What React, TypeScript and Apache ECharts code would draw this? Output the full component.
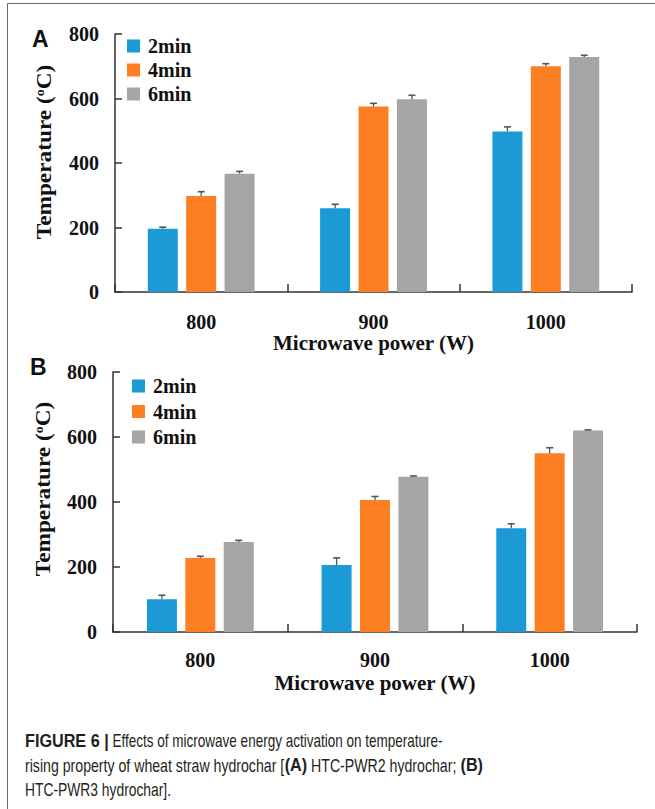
import React, { useEffect, useRef } from "react";
import * as echarts from "echarts";

const categories = ["800", "900", "1000"];
const seriesNames = ["2min", "4min", "6min"];
const seriesColors = ["#1b9ad6", "#fe7e22", "#a5a5a5"];

// Panel A (HTC-PWR2 hydrochar)
const a2min = [196, 260, 498];
const a4min = [298, 575, 700];
const a6min = [367, 598, 729];
const a2minErr = [5, 12, 14];
const a4minErr = [13, 10, 8];
const a6minErr = [7, 12, 5];

// Panel B (HTC-PWR3 hydrochar)
const b2min = [101, 206, 319];
const b4min = [228, 406, 550];
const b6min = [277, 478, 620];
const b2minErr = [12, 22, 14];
const b4minErr = [5, 11, 17];
const b6minErr = [5, 2, 2];

const yMin = 0;
const yMax = 800;
const yInterval = 200;

const xTitle = "Microwave power (W)";
const yTitle = "Temperature ({sup|o}C)";

const captionLines = [
  [
    { t: "FIGURE 6 |", b: true },
    { t: " Effects of microwave energy activation on temperature-", b: false },
  ],
  [
    { t: "rising property of wheat straw hydrochar [", b: false },
    { t: "(A)", b: true },
    { t: " HTC-PWR2 hydrochar; ", b: false },
    { t: "(B)", b: true },
  ],
  [{ t: "HTC-PWR3 hydrochar].", b: false }],
];

const SERIF = "'Liberation Serif', 'Times New Roman', serif";
const SANS = "'Liberation Sans', Arial, sans-serif";
const BAR_W = 30;
const BAR_GAP = 0.28;
const BAR_STEP = BAR_W * (1 + BAR_GAP);

function makeMeasurer() {
  const c = document.createElement("canvas");
  const ctx = c.getContext("2d");
  return (t: string, bold: boolean, size: number) => {
    if (!ctx) return t.length * size * 0.5;
    ctx.font = `${bold ? "bold " : ""}${size}px "Liberation Sans"`;
    return ctx.measureText(t).width;
  };
}

function errRender(k: number) {
  return (params: any, api: any) => {
    const idx = api.value(0);
    const v = api.value(1);
    const e = api.value(2);
    const p0 = api.coord([idx, v]);
    const p1 = api.coord([idx, v + e]);
    const cx = p0[0] + (k - 1) * BAR_STEP;
    return {
      type: "group",
      children: [
        {
          type: "line",
          shape: { x1: cx, y1: p0[1], x2: cx, y2: p1[1] },
          style: { stroke: "#555", lineWidth: 1.3 },
        },
        {
          type: "line",
          shape: { x1: cx - 3.5, y1: p1[1], x2: cx + 3.5, y2: p1[1] },
          style: { stroke: "#555", lineWidth: 1.6 },
        },
      ],
    };
  };
}

function panelSeries(gi: number, vals: number[][], errs: number[][]) {
  const out: any[] = [];
  vals.forEach((v, k) => {
    out.push({
      type: "bar",
      name: seriesNames[k],
      xAxisIndex: gi,
      yAxisIndex: gi,
      data: v,
      barWidth: BAR_W,
      barGap: `${BAR_GAP * 100}%`,
      itemStyle: { color: seriesColors[k] },
    });
  });
  vals.forEach((v, k) => {
    out.push({
      type: "custom",
      name: `${seriesNames[k]} error`,
      xAxisIndex: gi,
      yAxisIndex: gi,
      silent: true,
      z: 5,
      data: v.map((val, i) => [i, val, errs[k][i]]),
      encode: { x: 0, y: 1 },
      renderItem: errRender(k),
    });
  });
  return out;
}

const axisColor = "#333";
const labelStyle = { fontFamily: SERIF, fontWeight: "bold" as const, fontSize: 20, color: "#111" };

function xAxisFor(gi: number, margin: number, gap: number) {
  return {
    type: "category",
    gridIndex: gi,
    data: categories,
    axisLine: { lineStyle: { color: axisColor, width: 1.5 } },
    axisTick: { show: true, inside: true, length: 8, lineStyle: { color: axisColor, width: 1.5 } },
    axisLabel: { ...labelStyle, margin },
    name: xTitle,
    nameLocation: "middle",
    nameGap: gap,
    nameTextStyle: { ...labelStyle, fontSize: 21 },
  };
}

function yAxisFor(gi: number) {
  return {
    type: "value",
    gridIndex: gi,
    min: yMin,
    max: yMax,
    interval: yInterval,
    splitLine: { show: false },
    axisLine: { show: true, lineStyle: { color: axisColor, width: 1.5 } },
    axisTick: { show: true, inside: true, length: 7, lineStyle: { color: axisColor, width: 1.5 } },
    axisLabel: { ...labelStyle, margin: 16 },
  };
}

function yTitleGraphic(x: number, y: number) {
  return {
    type: "text",
    x,
    y,
    rotation: Math.PI / 2,
    scaleX: 1.06,
    style: {
      text: yTitle,
      fontFamily: SERIF,
      fontWeight: "bold",
      fontSize: 22,
      fill: "#111",
      align: "center",
      verticalAlign: "middle",
      rich: {
        sup: {
          fontFamily: SERIF,
          fontWeight: "bold",
          fontSize: 13,
          fill: "#111",
          verticalAlign: "top",
          lineHeight: 13,
        },
      },
    },
  };
}

function legendFor(left: number, top: number, gap: number) {
  return {
    data: seriesNames,
    orient: "vertical",
    left,
    top,
    padding: 0,
    icon: "rect",
    itemWidth: 13,
    itemHeight: 13,
    itemGap: gap,
    selectedMode: false,
    textStyle: { ...labelStyle, padding: [0, 0, 0, 3] },
  };
}

export default function App() {
  const ref = useRef<HTMLDivElement>(null);
  useEffect(() => {
    if (!ref.current) return;
    const chart = echarts.init(ref.current, undefined, { renderer: "svg" });

    const capSize = 18;
    const boldScale = 0.9;
    const measure = makeMeasurer();
    const capLeft = 25;
    const targets = [418, 458];
    const capYs = [741, 765, 789];
    const regScales: number[] = [];
    captionLines.slice(0, 2).forEach((segs, i) => {
      let wb = 0;
      let wr = 0;
      segs.forEach((s) => {
        const w = measure(s.t, s.b, capSize);
        if (s.b) wb += w * boldScale;
        else wr += w;
      });
      regScales.push((targets[i] - wb) / wr);
    });
    regScales.push((regScales[0] + regScales[1]) / 2);

    const captionGraphics: any[] = [];
    captionLines.forEach((segs, i) => {
      let x = capLeft;
      segs.forEach((s) => {
        const sc = s.b ? boldScale : regScales[i];
        captionGraphics.push({
          type: "text",
          x,
          y: capYs[i],
          scaleX: sc,
          style: {
            text: s.t,
            fontFamily: SANS,
            fontWeight: s.b ? "bold" : "normal",
            fontSize: capSize,
            fill: "#231f20",
            verticalAlign: "middle",
            align: "left",
          },
        });
        x += measure(s.t, s.b, capSize) * sc;
      });
    });

    chart.setOption({
      animation: false,
      backgroundColor: "#fff",
      grid: [
        { left: 115, top: 34, width: 517, height: 258 },
        { left: 113, top: 372, width: 524, height: 260 },
      ],
      legend: [legendFor(127, 36, 4), legendFor(132, 376, 5.5)],
      xAxis: [xAxisFor(0, 20, 39), xAxisFor(1, 18, 40)],
      yAxis: [yAxisFor(0), yAxisFor(1)],
      series: [
        ...panelSeries(0, [a2min, a4min, a6min], [a2minErr, a4minErr, a6minErr]),
        ...panelSeries(1, [b2min, b4min, b6min], [b2minErr, b4minErr, b6minErr]),
      ],
      graphic: [
        { type: "line", shape: { x1: 7.5, y1: 3.5, x2: 655, y2: 3.5 }, style: { stroke: "#666", lineWidth: 1 } },
        { type: "line", shape: { x1: 7.5, y1: 3.5, x2: 7.5, y2: 809 }, style: { stroke: "#666", lineWidth: 1 } },
        yTitleGraphic(44, 152),
        yTitleGraphic(43, 489),
        {
          type: "text",
          x: 32,
          y: 39,
          style: { text: "A", fontFamily: SANS, fontWeight: "bold", fontSize: 23, fill: "#111", verticalAlign: "middle" },
        },
        {
          type: "text",
          x: 30,
          y: 367,
          style: { text: "B", fontFamily: SANS, fontWeight: "bold", fontSize: 23, fill: "#111", verticalAlign: "middle" },
        },
        ...captionGraphics,
      ],
    });
    return () => chart.dispose();
  }, []);
  return (
    <div
      ref={ref}
      style={{ position: "absolute", left: 0, top: 0, width: 655, height: 809 }}
    />
  );
}
